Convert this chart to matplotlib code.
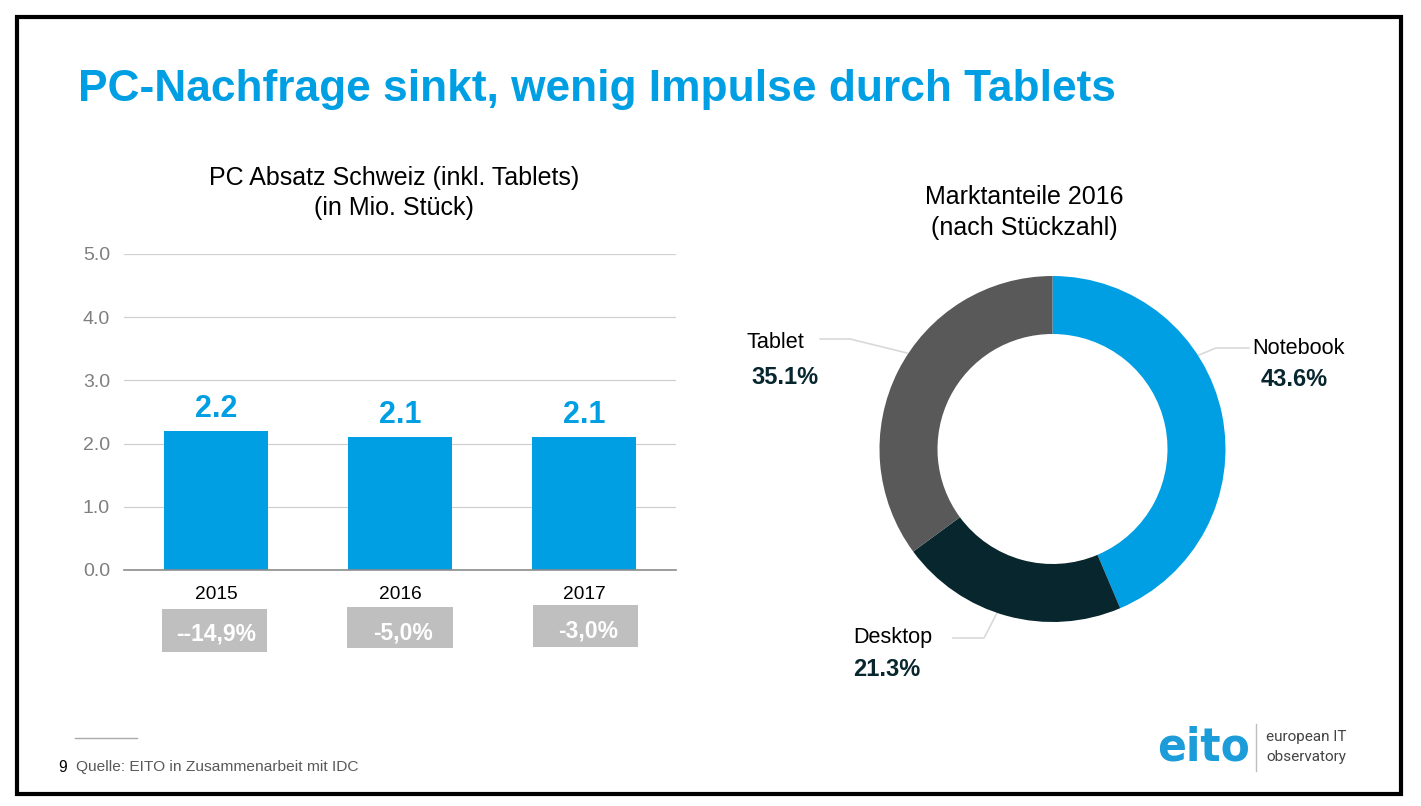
import matplotlib
matplotlib.use("Agg")
import matplotlib.pyplot as plt
from matplotlib.patches import Rectangle

plt.rcParams['font.family'] = ['Liberation Sans', 'DejaVu Sans']

W = 1421
H = 806
BLUE = "#009FE3"
DARK = "#07262E"
GREY = "#595959"

years = ["2015", "2016", "2017"]
absatz = [2.2, 2.1, 2.1]
absatz_labels = ["2.2", "2.1", "2.1"]
changes = ["--14,9%", "-5,0%", "-3,0%"]
y_ticks = [0, 1, 2, 3, 4, 5]

segments = ["Notebook", "Desktop", "Tablet"]
shares = [43.6, 21.3, 35.1]
share_labels = ["43.6%", "21.3%", "35.1%"]
seg_colors = [BLUE, DARK, GREY]


def px_axes(fig, x0, y0, x1, y1, **kw):
    # pixel box (y from the top) to figure fractions
    return fig.add_axes([x0 / W, 1 - y1 / H, (x1 - x0) / W, (y1 - y0) / H], **kw)


fig = plt.figure(figsize=(W / 100, H / 100), dpi=100, facecolor="white")

# overlay in pixel coords for slide furniture
bg = px_axes(fig, 0, 0, W, H)
bg.set_xlim(0, W)
bg.set_ylim(H, 0)
bg.axis("off")
bg.add_patch(Rectangle((16.5, 16.5), 1384, 777, fill=False, ec="black", lw=3))
bg.text(78, 90, "PC-Nachfrage sinkt, wenig Impulse durch Tablets", color=BLUE,
        fontsize=31.85, fontweight="bold", va="center", ha="left")
bg.text(394, 178, "PC Absatz Schweiz (inkl. Tablets)", fontsize=18, ha="center", va="center")
bg.text(394, 208, "(in Mio. Stück)", fontsize=18, ha="center", va="center")
bg.text(1024, 197, "Marktanteile 2016", fontsize=18, ha="center", va="center")
bg.text(1024, 228, "(nach Stückzahl)", fontsize=18, ha="center", va="center")

# change boxes under the bars
boxes = [(162, 609, 105, 43), (347, 607, 106, 41), (533, 605, 105, 42)]
text_pos = [(216, 634), (403, 633), (588, 631)]
for b, t, c in zip(boxes, text_pos, changes):
    bg.add_patch(Rectangle((b[0], b[1]), b[2], b[3], fc="#BFBFBF", ec="none"))
    bg.text(t[0], t[1], c, color="white", fontsize=16.5, fontweight="bold", ha="center", va="center")

# donut leader lines and labels
bg.plot([820, 850, 907], [339, 339, 353], color="#D9D9D9", lw=1.2)
bg.plot([1249, 1216, 1199], [348, 348, 355], color="#D9D9D9", lw=1.2)
bg.plot([953, 984, 997], [638, 638, 613], color="#D9D9D9", lw=1.2)
name_pos = [(1298, 348), (893, 637), (775, 343)]
val_pos = [(1294, 380), (887, 670), (785, 377)]
for n, v, s, lab in zip(name_pos, val_pos, segments, share_labels):
    bg.text(n[0], n[1], s, fontsize=15.6, ha="center", va="center")
    bg.text(v[0], v[1], lab, fontsize=17, fontweight="bold", color=DARK, ha="center", va="center")

# footer
bg.plot([75, 137], [738, 738], color="#AAAAAA", lw=1)
bg.text(58, 767, "9", fontsize=11.2, ha="left", va="center")
bg.text(76, 767, "Quelle: EITO in Zusammenarbeit mit IDC", fontsize=11.15, color="#595959", ha="left", va="center")

# logo as text
bg.text(1157, 748, "eito", color="#1C9CD8", fontsize=34, fontweight="bold", family="DejaVu Sans",
        ha="left", va="center", stretch="condensed")
bg.plot([1256, 1256], [724, 771], color="#BFBFBF", lw=1)
bg.text(1266, 737, "european IT", color="#444444", fontsize=11, ha="left", va="center", family="Roboto")
bg.text(1266, 757, "observatory", color="#444444", fontsize=11, ha="left", va="center", family="Roboto")

# bar chart
ax = px_axes(fig, 124, 254, 676, 570)
ax.patch.set_alpha(0)
ax.bar(range(len(years)), absatz, width=0.57, color=BLUE, zorder=3)
ax.set_xlim(-0.5, 2.5)
ax.set_ylim(0, 5)
ax.set_yticks(y_ticks)
ax.set_yticklabels(["%.1f" % v for v in y_ticks], color="#7F7F7F", fontsize=14)
ax.set_xticks(range(len(years)))
ax.set_xticklabels(years, fontsize=13.8)
ax.tick_params(axis="both", length=0)
ax.tick_params(axis="x", pad=11.5)
ax.tick_params(axis="y", pad=10)
ax.grid(axis="y", color="#D0D0D0", lw=0.9, zorder=0)
for s in ["top", "left", "right"]:
    ax.spines[s].set_visible(False)
ax.spines["bottom"].set_color("#8C8C8C")
ax.spines["bottom"].set_linewidth(1.2)
ax.spines["bottom"].set_zorder(4)
for i, (v, lab) in enumerate(zip(absatz, absatz_labels)):
    ax.annotate(lab, (i, v), xytext=(0, 5), textcoords="offset points", color=BLUE, fontsize=22,
                fontweight="bold", ha="center", va="bottom")

# donut
pie_ax = px_axes(fig, 1052.5 - 173, 449 - 173, 1052.5 + 173, 449 + 173)
pie_ax.pie(shares, colors=seg_colors, startangle=90, counterclock=False, radius=1,
           wedgeprops=dict(width=58 / 173, edgecolor="none"))
pie_ax.set_xlim(-1, 1)
pie_ax.set_ylim(-1, 1)

fig.savefig("out.png", dpi=100)
